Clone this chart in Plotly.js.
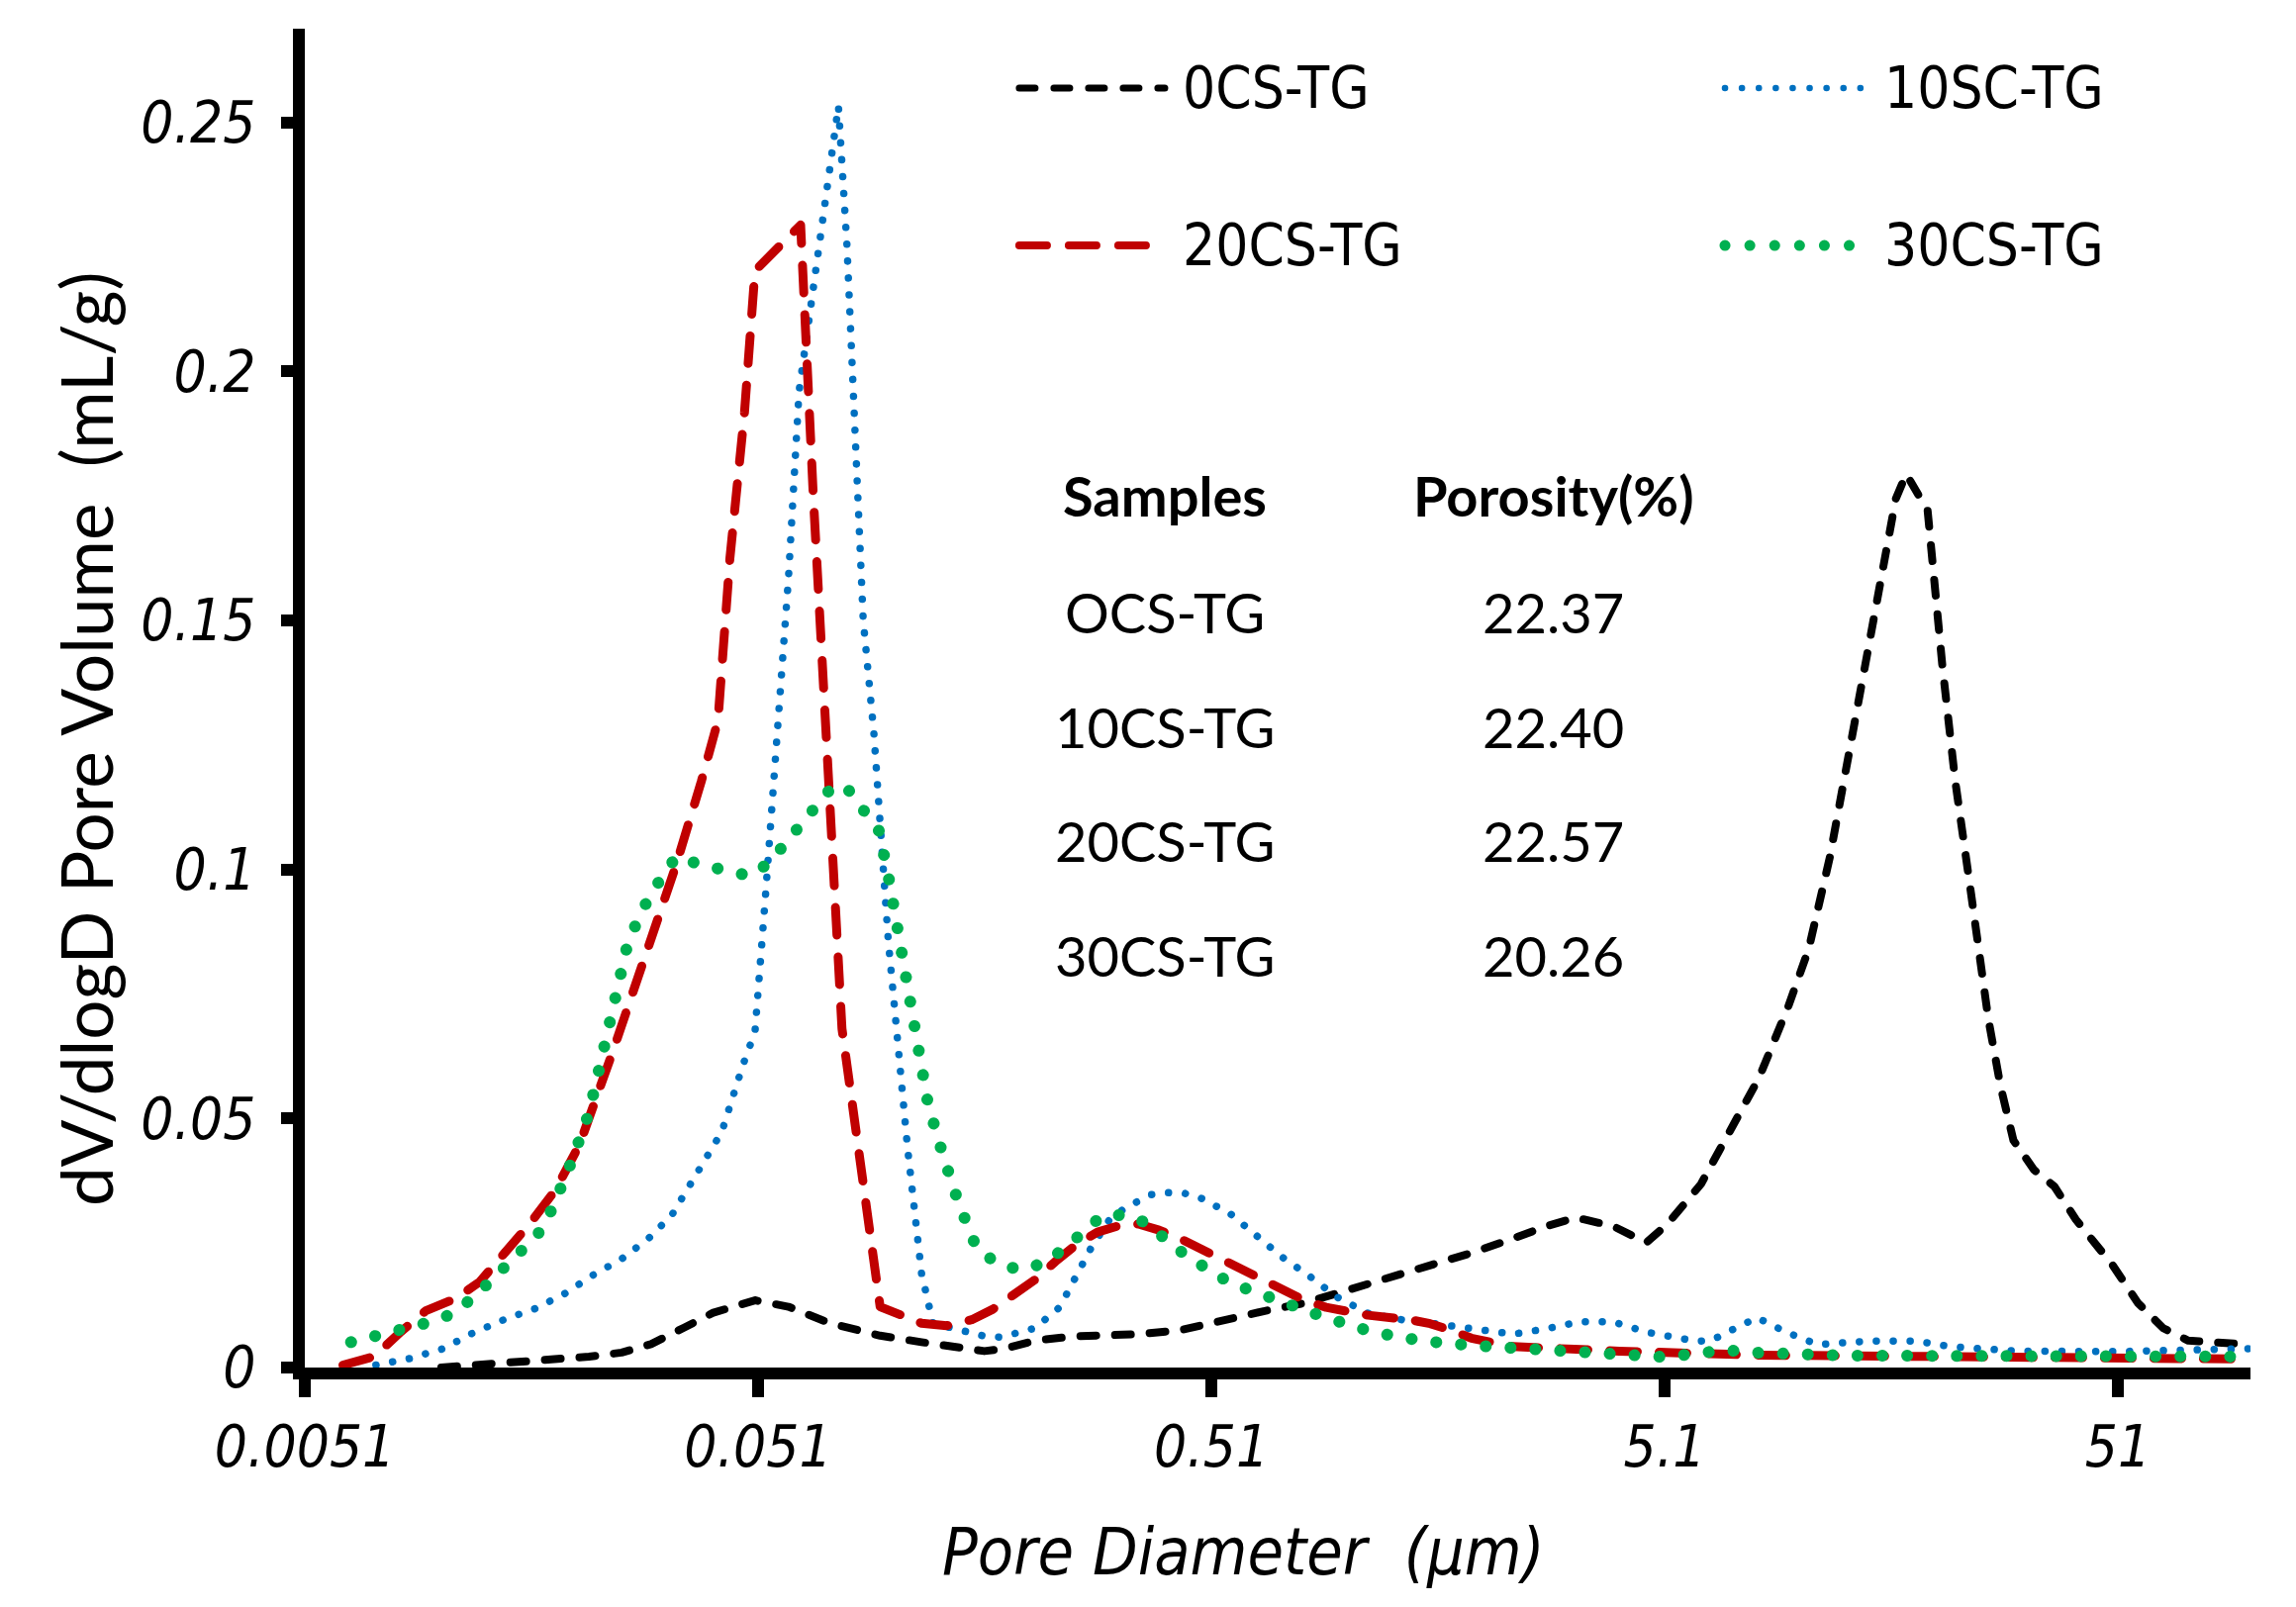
<!DOCTYPE html>
<html>
<head>
<meta charset="utf-8">
<script src="https://cdn.plot.ly/plotly-3.0.1.min.js"></script>
<style>
  html, body { margin: 0; padding: 0; background: #fff; }
  #chart { width: 2320px; height: 1624px; }
</style>
</head>
<body>
<div id="chart"></div>
<script>
// pore diameter (um) and dV/dlogD (mL/g)
var d0 = [0.0102, 0.0147, 0.0174, 0.0216, 0.0255, 0.0296, 0.035, 0.0406, 0.0502, 0.0595, 0.0735, 0.0948, 0.117, 0.139, 0.161, 0.179, 0.208, 0.256, 0.352, 0.435, 0.538, 0.665, 0.822, 1.02, 1.26, 1.55, 1.91, 2.36, 2.80, 3.25, 3.92, 4.65, 5.17, 6.13, 7.11, 8.23, 9.54, 10.6, 11.8, 12.8, 14.0, 15.2, 16.5, 17.4, 19.4, 20.9, 22.3, 24.2, 26.4, 28.1, 30.0, 33.3, 36.9, 41.2, 49.7, 56.4, 64.2, 72.9, 100];
var v0 = [0, 0.0009, 0.0015, 0.0022, 0.003, 0.0047, 0.008, 0.011, 0.0135, 0.0122, 0.0089, 0.0064, 0.0051, 0.0042, 0.0033, 0.0038, 0.0054, 0.0063, 0.0067, 0.0075, 0.0096, 0.0113, 0.013, 0.0155, 0.018, 0.0205, 0.023, 0.0259, 0.0284, 0.0301, 0.0284, 0.0251, 0.0288, 0.0368, 0.0472, 0.0581, 0.0723, 0.084, 0.1024, 0.12, 0.1393, 0.1585, 0.1744, 0.1794, 0.172, 0.141, 0.118, 0.095, 0.070, 0.0564, 0.0456, 0.0397, 0.0364, 0.0297, 0.0205, 0.013, 0.0079, 0.0054, 0.0046];

var d10 = [0.00732, 0.00868, 0.0103, 0.0119, 0.0141, 0.0164, 0.019, 0.022, 0.0255, 0.0293, 0.0329, 0.0374, 0.0424, 0.0472, 0.0502, 0.0529, 0.0553, 0.0595, 0.0628, 0.069, 0.0751, 0.0767, 0.0801, 0.0835, 0.087, 0.0918, 0.0988, 0.109, 0.117, 0.124, 0.136, 0.161, 0.175, 0.208, 0.236, 0.257, 0.276, 0.304, 0.331, 0.376, 0.409, 0.444, 0.484, 0.561, 0.638, 0.730, 0.838, 0.963, 1.13, 1.34, 1.58, 1.87, 2.36, 2.80, 3.32, 3.92, 4.65, 5.99, 6.45, 7.49, 8.16, 9.46, 11.1, 14.3, 18.4, 21.8, 30.6, 51, 100];
var v10 = [0.0005, 0.0018, 0.0038, 0.0068, 0.0097, 0.0118, 0.0147, 0.0185, 0.0218, 0.026, 0.0306, 0.039, 0.0473, 0.0607, 0.0674, 0.0942, 0.1192, 0.1584, 0.196, 0.2227, 0.247, 0.2533, 0.2253, 0.1834, 0.15, 0.1276, 0.0858, 0.044, 0.0189, 0.0089, 0.0079, 0.0063, 0.0061, 0.0079, 0.0121, 0.0188, 0.0238, 0.0297, 0.0322, 0.0347, 0.0351, 0.035, 0.034, 0.0309, 0.0268, 0.0222, 0.0184, 0.0142, 0.0109, 0.0096, 0.0088, 0.0078, 0.0067, 0.0078, 0.0092, 0.0092, 0.0071, 0.0053, 0.0054, 0.0084, 0.0100, 0.0071, 0.0046, 0.0053, 0.0053, 0.0042, 0.0033, 0.0032, 0.0038];

var d20 = [0.00619, 0.00725, 0.00831, 0.00943, 0.011, 0.0124, 0.0141, 0.016, 0.0182, 0.0206, 0.0245, 0.0289, 0.0336, 0.0382, 0.0416, 0.0442, 0.0476, 0.0502, 0.0633, 0.0675, 0.072, 0.0781, 0.0948, 0.105, 0.117, 0.133, 0.151, 0.168, 0.187, 0.208, 0.231, 0.257, 0.286, 0.317, 0.352, 0.391, 0.435, 0.538, 0.665, 0.822, 0.913, 1.13, 1.40, 1.55, 1.72, 1.91, 2.36, 2.92, 4.05, 8.08, 16.1, 32.2, 51, 100];
var v20 = [0.0005, 0.0022, 0.0072, 0.0114, 0.0139, 0.0172, 0.0231, 0.0289, 0.0356, 0.0448, 0.064, 0.0833, 0.1008, 0.1176, 0.1299, 0.1625, 0.1918, 0.2202, 0.2294, 0.1751, 0.1276, 0.068, 0.0122, 0.0105, 0.0089, 0.0084, 0.0096, 0.0117, 0.0146, 0.0176, 0.0213, 0.0247, 0.0272, 0.0284, 0.0288, 0.0276, 0.0259, 0.0217, 0.0176, 0.0134, 0.0121, 0.0105, 0.0096, 0.0088, 0.0075, 0.0059, 0.0042, 0.0038, 0.0033, 0.0025, 0.0022, 0.002, 0.002, 0.0017];

var d30 = [0.00645, 0.00732, 0.00831, 0.00943, 0.0106, 0.0118, 0.0129, 0.0141, 0.0155, 0.017, 0.018, 0.0198, 0.0216, 0.0229, 0.0242, 0.0256, 0.0264, 0.0295, 0.0336, 0.038, 0.0431, 0.0489, 0.0539, 0.0635, 0.0748, 0.0808, 0.087, 0.0943, 0.0992, 0.106, 0.113, 0.121, 0.130, 0.141, 0.155, 0.172, 0.193, 0.217, 0.241, 0.265, 0.292, 0.331, 0.371, 0.409, 0.453, 0.561, 0.716, 0.913, 1.16, 1.50, 1.93, 2.49, 3.25, 4.05, 5.1, 6.96, 8.08, 12.8, 20.3, 32.2, 51, 100];
var v30 = [0.0051, 0.0064, 0.0072, 0.0089, 0.0105, 0.0135, 0.0168, 0.0206, 0.0239, 0.0277, 0.0323, 0.0415, 0.0511, 0.0611, 0.0707, 0.0806, 0.0858, 0.095, 0.1025, 0.101, 0.100, 0.0987, 0.1013, 0.109, 0.1169, 0.1159, 0.1117, 0.1077, 0.0979, 0.0827, 0.0677, 0.0528, 0.0431, 0.0332, 0.0238, 0.0209, 0.0196, 0.0209, 0.0238, 0.0273, 0.0304, 0.0307, 0.0288, 0.0253, 0.0222, 0.017, 0.0134, 0.010, 0.0071, 0.0053, 0.0044, 0.0038, 0.0035, 0.0025, 0.0021, 0.0035, 0.003, 0.0024, 0.0024, 0.0022, 0.002, 0.0022];

var seriesNames = ['0CS-TG', '10SC-TG', '20CS-TG', '30CS-TG'];
var seriesColors = ['#000000', '#0070C0', '#C00000', '#00B050'];
var seriesWidths = [8, 7.5, 9, 12];
var seriesDash = ['16px,19px', '0.1px,17px', '28px,22px', '0.1px,25px'];

var xTickVals = [0.0051, 0.051, 0.51, 5.1, 51];
var xTickText = ['0.0051', '0.051', '0.51', '5.1', '51'];
var yTickVals = [0, 0.05, 0.1, 0.15, 0.2, 0.25];
var yTickText = ['0', '0.05', '0.1', '0.15', '0.2', '0.25'];

var tableSamples = ['OCS-TG', '10CS-TG', '20CS-TG', '30CS-TG'];
var tablePorosity = ['22.37', '22.40', '22.57', '20.26'];

var xs = [d0, d10, d20, d30];
var ys = [v0, v10, v20, v30];

var traces = [];
for (var i = 0; i < 4; i++) {
  traces.push({
    x: xs[i], y: ys[i], type: 'scatter', mode: 'lines', name: seriesNames[i],
    line: { color: seriesColors[i], width: seriesWidths[i], dash: seriesDash[i] },
    showlegend: false, hoverinfo: 'skip'
  });
}

var xRange = [Math.log10(0.0051), 2];
var yRange = [0, 0.2688];
var narrow = '"Liberation Sans Narrow", "DejaVu Sans Condensed", "Liberation Sans", sans-serif';
var lato = 'Lato, "Open Sans", sans-serif';

// hand-drawn legend: two columns, two rows
var legX = [[0.3672, 0.4420], [0.7299, 0.8026]];
var legY = [0.9557, 0.8381];
var shapes = [];
var annotations = [];
for (var k = 0; k < 4; k++) {
  var col = k % 2, row = Math.floor(k / 2);
  shapes.push({
    type: 'line', xref: 'paper', yref: 'paper',
    x0: legX[col][0], x1: legX[col][1], y0: legY[row], y1: legY[row],
    line: { color: seriesColors[k], width: seriesWidths[k] - 1, dash: seriesDash[k] }
  });
  annotations.push({
    xref: 'paper', yref: 'paper', x: legX[col][1] + 0.008, y: legY[row],
    xanchor: 'left', yanchor: 'middle', showarrow: false,
    text: seriesNames[k], font: { family: narrow, size: 58, color: '#000' }
  });
}

// porosity table
var tableFont = { family: lato, size: 56, color: '#000' };
var colX = [0.4420, 0.6418];
var rowY = [0.6514, 0.5643, 0.4789, 0.3939, 0.3081];
function cell(x, y, txt) {
  return { xref: 'paper', yref: 'paper', x: x, y: y, xanchor: 'center', yanchor: 'middle',
    showarrow: false, text: txt, font: tableFont };
}
annotations.push(cell(colX[0], rowY[0], '<b>Samples</b>'));
annotations.push(cell(colX[1], rowY[0], '<b>Porosity(%)</b>'));
for (var r = 0; r < tableSamples.length; r++) {
  annotations.push(cell(colX[0], rowY[r + 1], tableSamples[r]));
  annotations.push(cell(colX[1], rowY[r + 1], tablePorosity[r]));
}

// axis titles, placed where the original has them (slightly off-centre)
annotations.push({
  xref: 'paper', yref: 'paper', x: -0.1129, y: 0.4693, textangle: -90,
  xanchor: 'center', yanchor: 'middle', showarrow: false,
  text: 'dV/dlogD Pore Volume\u00a0\u00a0(mL/g)', font: { family: lato, size: 71, color: '#000' }
});
annotations.push({
  xref: 'paper', yref: 'paper', x: 0.4822, y: -0.1382,
  xanchor: 'center', yanchor: 'middle', showarrow: false,
  text: 'Pore Diameter\u00a0\u00a0(\u03bcm)', font: { family: narrow, size: 66, style: 'italic', color: '#000' }
});

var layout = {
  width: 2320, height: 1624,
  margin: { l: 308, r: 46, t: 29, b: 242 },
  paper_bgcolor: '#fff', plot_bgcolor: '#fff',
  showlegend: false,
  xaxis: {
    type: 'log', range: xRange, showgrid: false, zeroline: false,
    showline: true, linecolor: '#000', linewidth: 12,
    ticks: 'outside', ticklen: 18, tickwidth: 12, tickcolor: '#000',
    tickvals: xTickVals, ticktext: xTickText,
    tickfont: { family: narrow, size: 58, style: 'italic', color: '#000' }
  },
  yaxis: {
    range: yRange, showgrid: false, zeroline: false,
    showline: true, linecolor: '#000', linewidth: 12,
    ticks: 'outside', ticklen: 12, tickwidth: 12, tickcolor: '#000',
    tickvals: yTickVals, ticktext: yTickText, ticklabelstandoff: 14,
    tickfont: { family: narrow, size: 58, style: 'italic', color: '#000' }
  },
  xaxis2: {
    type: 'log', range: xRange, overlaying: 'x', anchor: 'y', side: 'bottom',
    showgrid: false, zeroline: false, showline: false,
    ticks: 'inside', ticklen: 8, tickwidth: 12, tickcolor: '#000',
    tickvals: xTickVals, showticklabels: false
  },
  yaxis2: {
    range: yRange, overlaying: 'y', anchor: 'x', side: 'left',
    showgrid: false, zeroline: false, showline: false,
    ticks: 'inside', ticklen: 12, tickwidth: 12, tickcolor: '#000',
    tickvals: yTickVals, showticklabels: false
  },
  shapes: shapes,
  annotations: annotations
};

Plotly.newPlot('chart', traces, layout, { displayModeBar: false, staticPlot: true }).then(function (gd) {
  // round caps so dotted lines become round dots like the original
  var paths = gd.querySelectorAll('.scatterlayer path.js-line, .shapelayer path');
  paths.forEach(function (p) {
    p.style.strokeLinecap = 'round';
    p.style.strokeLinejoin = 'round';
  });
});
</script>
</body>
</html>
